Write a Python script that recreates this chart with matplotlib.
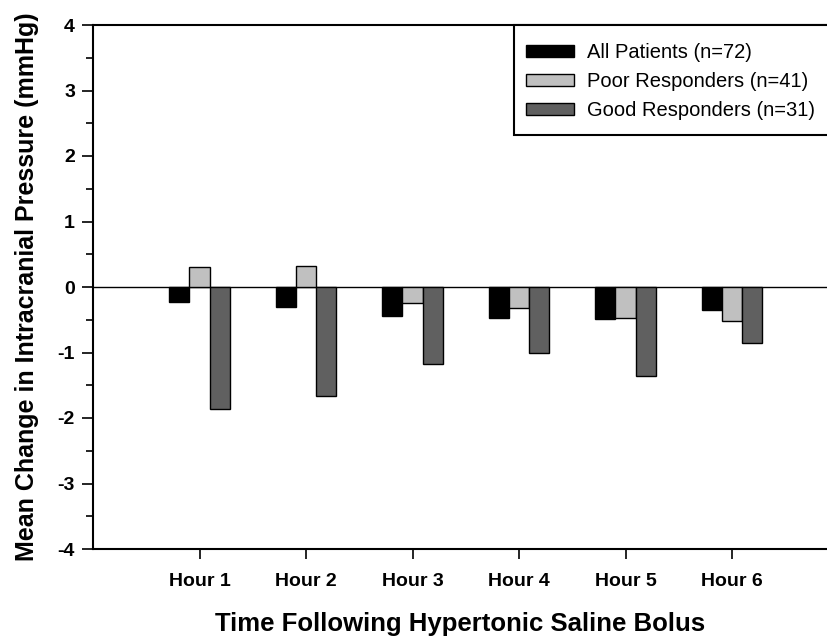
import matplotlib
matplotlib.use("Agg")
import matplotlib.pyplot as plt
import numpy as np
from matplotlib.ticker import MultipleLocator
from matplotlib.patches import Rectangle

categories = ["Hour 1", "Hour 2", "Hour 3", "Hour 4", "Hour 5", "Hour 6"]
all_patients = [-0.23, -0.30, -0.44, -0.47, -0.49, -0.35]
poor_responders = [0.30, 0.32, -0.24, -0.32, -0.47, -0.52]
good_responders = [-1.86, -1.66, -1.18, -1.01, -1.36, -0.86]
series_labels = ["All Patients (n=72)", "Poor Responders (n=41)", "Good Responders (n=31)"]
colors = ["#000000", "#c0c0c0", "#606060"]
y_ticks = [-4, -3, -2, -1, 0, 1, 2, 3, 4]

plt.rcParams['font.family'] = ['Liberation Sans', 'DejaVu Sans']

W, H = 828, 636
fig = plt.figure(figsize=(W/100, H/100), dpi=100)
ax = fig.add_axes([93/W, 1-549/H, 1-93/W, (549-25)/H])

x = np.arange(len(categories))
w = 0.19
for i, (vals, lab, c) in enumerate(zip([all_patients, poor_responders, good_responders], series_labels, colors)):
    ax.bar(x + (i-1)*w, vals, w, color=c, edgecolor="black", linewidth=1.0, label=lab, zorder=3)

ax.axhline(0, color="black", linewidth=1.0, zorder=2)
ax.set_xlim(-1, 5.9)
ax.set_ylim(-4, 4)
ax.yaxis.set_minor_locator(MultipleLocator(0.5))
ax.set_xticks(x)
ax.set_xticklabels(categories, fontsize=14, fontweight="bold")
ax.set_yticks(y_ticks)
ax.set_yticklabels([str(v) for v in y_ticks], fontsize=14, fontweight="bold")
ax.tick_params(axis='y', which='major', length=8, width=1.2, direction='out', pad=5)
ax.tick_params(axis='y', which='minor', length=5, width=1.2, direction='out')
ax.tick_params(axis='x', which='major', length=7, width=1.2, direction='out', pad=10)
for s in ["top", "bottom", "left"]:
    ax.spines[s].set_linewidth(1.5)
ax.spines["right"].set_visible(False)

ax.set_ylabel("Mean Change in Intracranial Pressure (mmHg)", fontsize=18, fontweight="bold")
ax.yaxis.set_label_coords(-0.073, 0.5)
ax.set_xlabel("Time Following Hypertonic Saline Bolus", fontsize=18.5, fontweight="bold", va="baseline")
ax.xaxis.set_label_coords(0.5, (549-631)/524)

# legend frame
frame = Rectangle((514/W, 1-135/H), (W+20-514)/W, 110/H, transform=fig.transFigure,
                  facecolor="white", edgecolor="black", linewidth=1.5, zorder=4, clip_on=False)
ax.add_artist(frame)
leg = ax.legend(loc="upper left", bbox_to_anchor=(526/W, 1-43/H), bbox_transform=fig.transFigure,
                fontsize=14.5, frameon=False, borderaxespad=0, handlelength=2.4,
                handleheight=0.6, labelspacing=0.5, borderpad=0, handletextpad=0.65)
leg.set_zorder(5)

fig.savefig("out.png", dpi=100)
